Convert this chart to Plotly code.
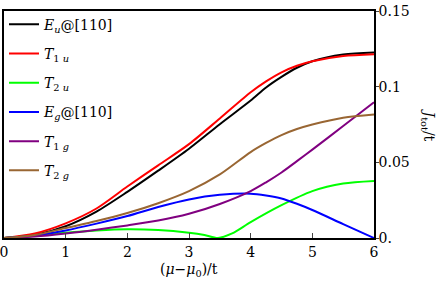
import plotly.graph_objects as go

x_vals = [0, 0.5, 1, 1.5, 2, 2.5, 3, 3.5, 4, 4.25, 4.5, 4.75, 5, 5.5, 6]
eu_110 = [0, 0.002, 0.0078, 0.0175, 0.0305, 0.0445, 0.059, 0.0752, 0.0908, 0.0995, 0.1065, 0.1125, 0.1168, 0.1212, 0.1226]
t1u = [0, 0.003, 0.0097, 0.0195, 0.034, 0.048, 0.062, 0.079, 0.0963, 0.1035, 0.1095, 0.1138, 0.1168, 0.1203, 0.1215]
eg_110 = [0, 0.0015, 0.005, 0.0095, 0.0145, 0.0205, 0.0255, 0.0285, 0.0293, 0.0281, 0.0261, 0.0226, 0.0185, 0.0092, 0.0]
t1g = [0, 0.001, 0.003, 0.0055, 0.0083, 0.0115, 0.016, 0.0225, 0.031, 0.0368, 0.0433, 0.0508, 0.0584, 0.074, 0.0897]
t2g = [0, 0.002, 0.0066, 0.0112, 0.0165, 0.023, 0.031, 0.042, 0.0568, 0.0628, 0.068, 0.072, 0.075, 0.0795, 0.0816]

x_t2u = [0, 0.5, 1, 1.5, 2, 2.5, 3, 3.25, 3.47, 3.7, 4, 4.5, 5, 5.5, 6]
t2u = [0, 0.0015, 0.0035, 0.005, 0.0058, 0.0053, 0.0035, 0.002, 0.0, 0.003, 0.0105, 0.0217, 0.031, 0.036, 0.0377]

x_ticks = [0, 1, 2, 3, 4, 5, 6]
y_ticks = [0, 0.05, 0.1, 0.15]
y_tick_labels = ["0.", "0.05", "0.1", "0.15"]

series = [
    ("<i>E<sub>u</sub></i>@[110]", x_vals, eu_110, "#000000"),
    ("<i>T</i><sub>1 <i>u</i></sub>", x_vals, t1u, "#FF0000"),
    ("<i>T</i><sub>2 <i>u</i></sub>", x_t2u, t2u, "#00FF00"),
    ("<i>E<sub>g</sub></i>@[110]", x_vals, eg_110, "#0000FF"),
    ("<i>T</i><sub>1 <i>g</i></sub>", x_vals, t1g, "#800080"),
    ("<i>T</i><sub>2 <i>g</i></sub>", x_vals, t2g, "#996633"),
]

fig = go.Figure()
for i, (name, xs, ys, color) in enumerate(series):
    fig.add_trace(go.Scatter(
        x=xs, y=ys, mode="lines", name=name, legendgroup=f"g{i}",
        line=dict(color=color, width=2, shape="spline", smoothing=0.8),
    ))

font = dict(family="DejaVu Serif", size=14, color="black")

fig.update_layout(
    width=436, height=292,
    margin=dict(l=4, r=62, t=11, b=54, autoexpand=False),
    paper_bgcolor="white", plot_bgcolor="white",
    font=font,
    showlegend=True,
    legend=dict(x=0.0, y=0.97, yref="container", xanchor="left", yanchor="top",
                bgcolor="rgba(0,0,0,0)", tracegroupgap=8, maxheight=1,
                font=font),
    xaxis=dict(range=[0, 6], tickvals=x_ticks, ticks="inside", ticklen=5, tickwidth=1,
               showline=True, linecolor="black", linewidth=1.5, mirror=True,
               showgrid=False, zeroline=False, tickfont=font, automargin=False,
               ticklabeloverflow="allow"),
    yaxis=dict(range=[0, 0.15], side="right", tickvals=y_ticks, ticktext=y_tick_labels,
               ticks="outside", ticklen=3, tickwidth=1, ticklabelstandoff=-3,
               showline=True, linecolor="black", linewidth=1.5, mirror=True,
               showgrid=False, zeroline=False, tickfont=font, automargin=False,
               ticklabeloverflow="allow"),
    annotations=[
        dict(text="<i>J</i><sub>tot</sub>/t", xref="paper", yref="paper",
             x=1.0, y=0.5, xshift=54, xanchor="center", yanchor="middle",
             showarrow=False, textangle=90, font=font),
        dict(text="(<i>μ</i>−<i>μ</i><sub>0</sub>)/t", xref="paper", yref="paper",
             x=0.5, y=-0.14, xanchor="center", yanchor="middle", showarrow=False, font=font),
    ],
)

fig.write_html("out.html", config={"displayModeBar": False},
               post_script="document.body.style.margin='0';")
